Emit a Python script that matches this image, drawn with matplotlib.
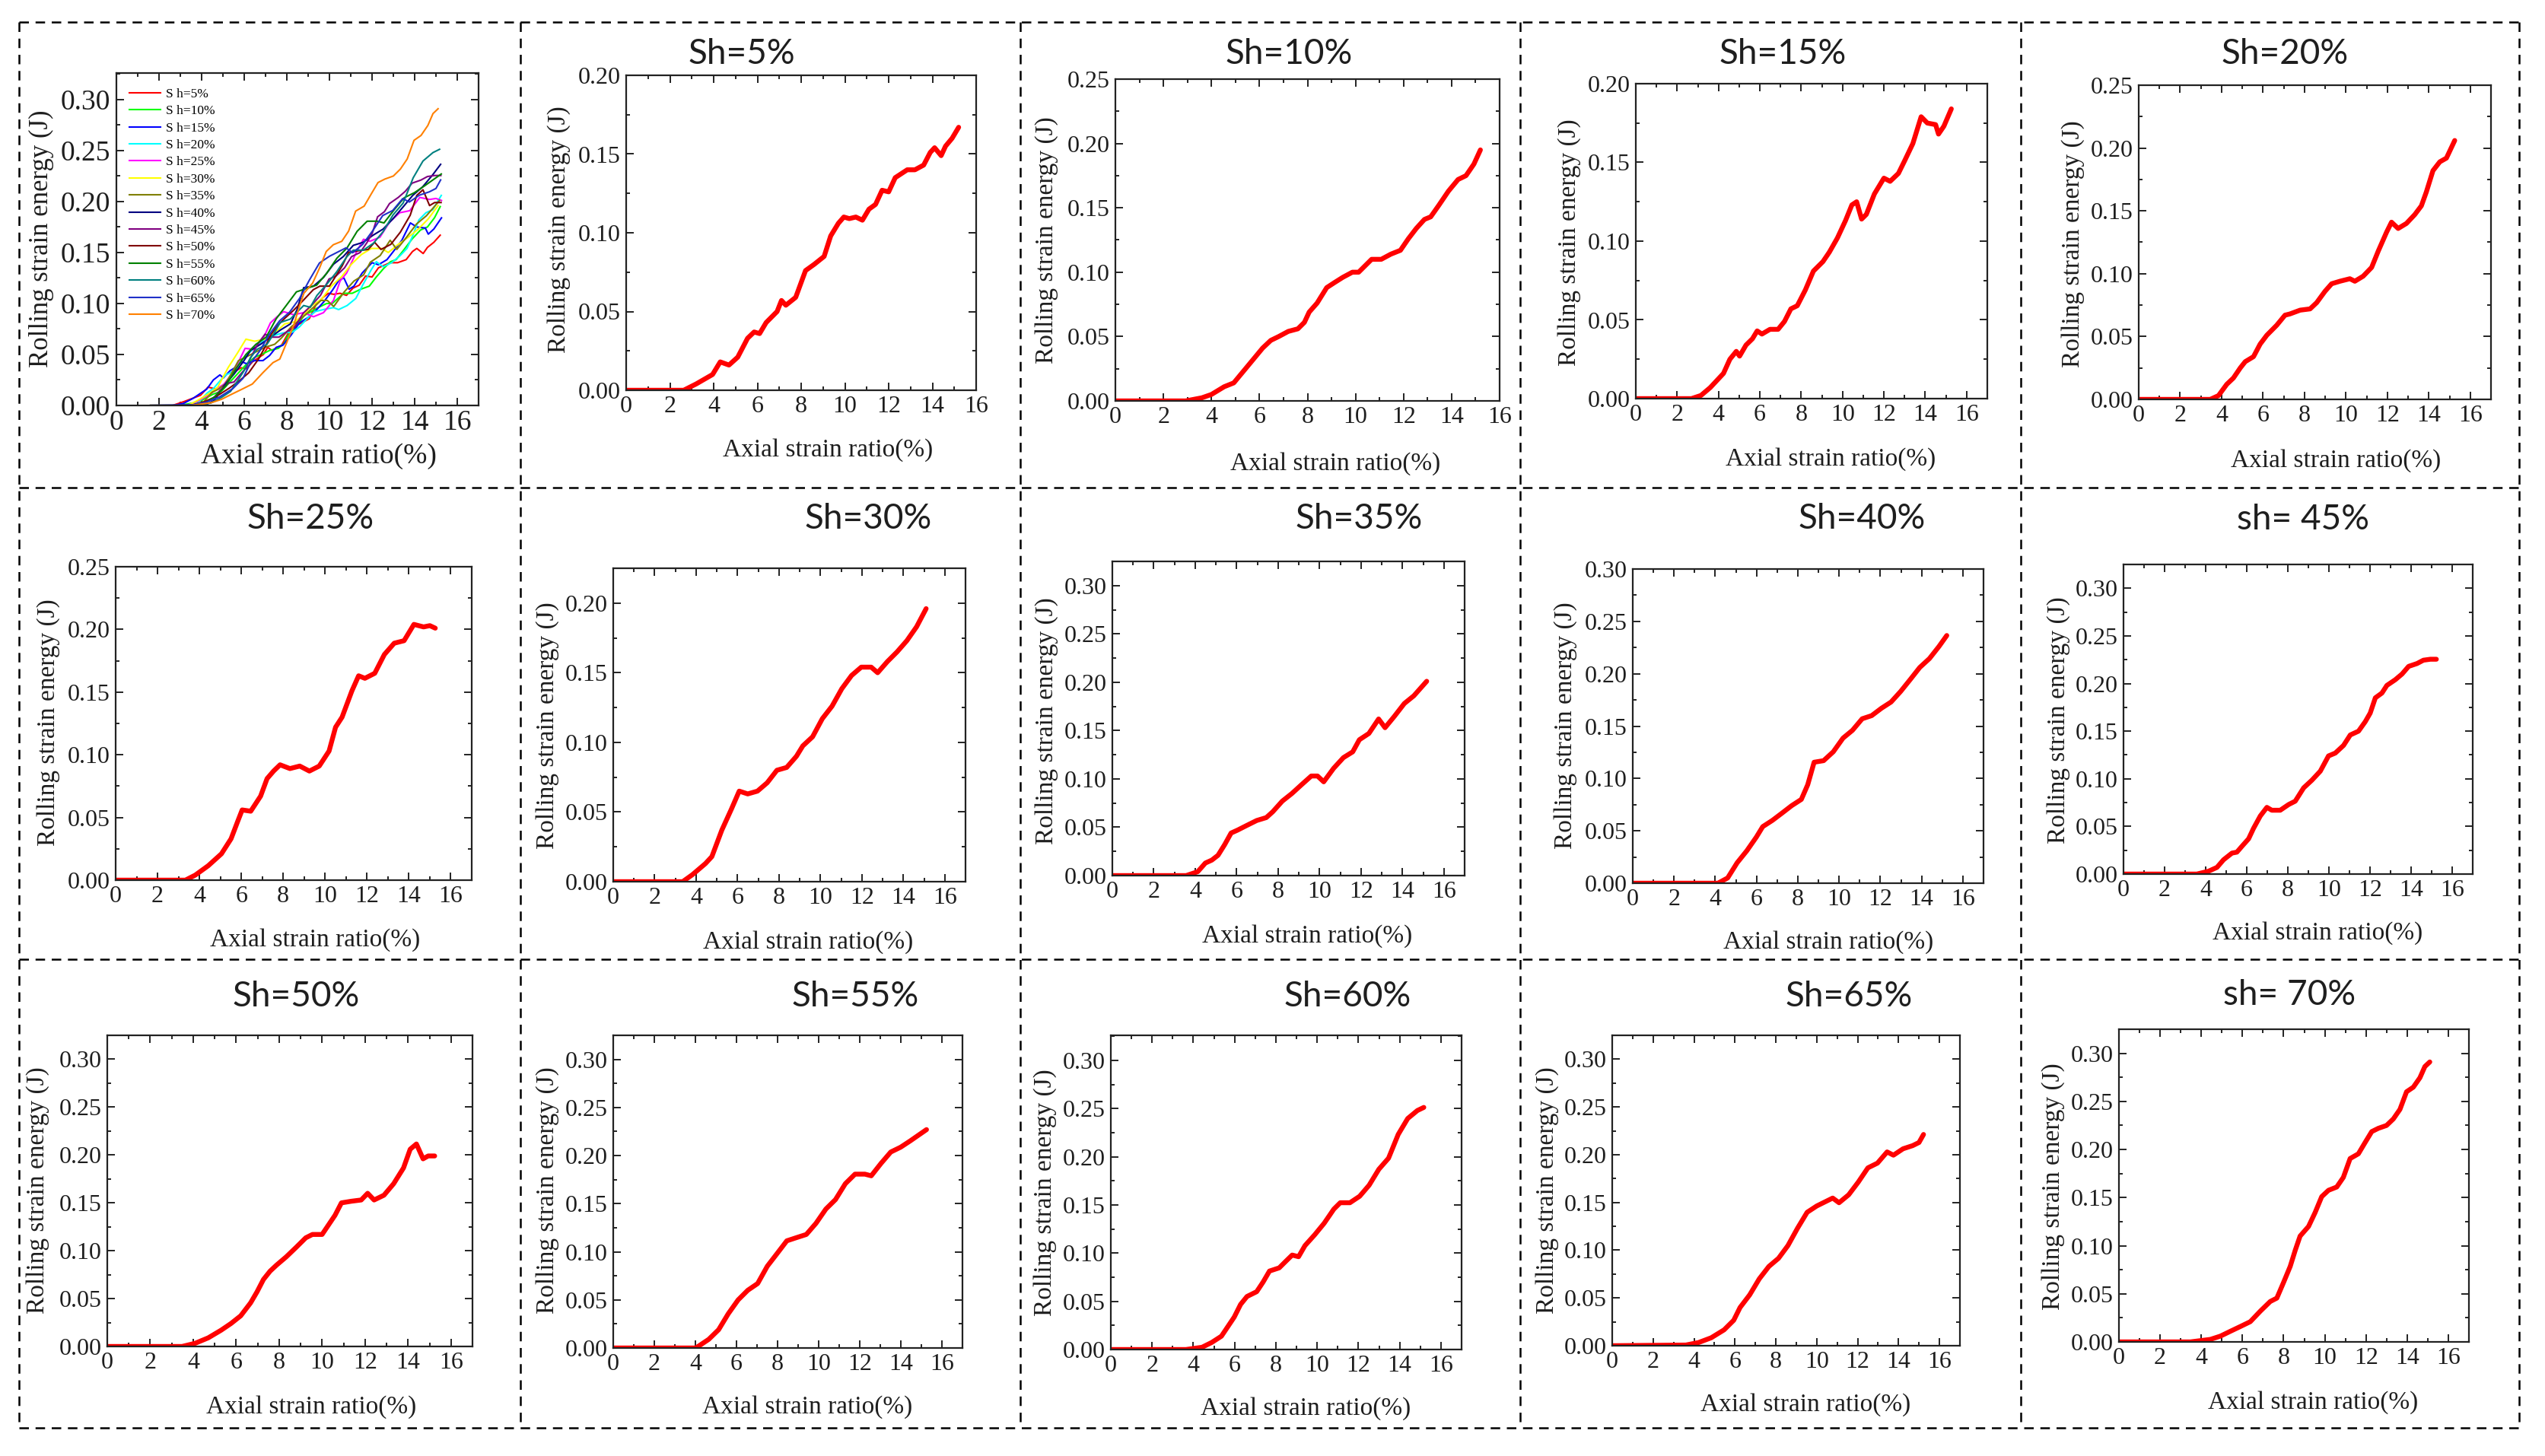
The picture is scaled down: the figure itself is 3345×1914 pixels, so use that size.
import numpy as np
import matplotlib
matplotlib.use("Agg")
import matplotlib.pyplot as plt
from matplotlib.lines import Line2D
from matplotlib.ticker import MultipleLocator, FormatStrFormatter

# ---- data (axial strain %, rolling strain energy J) ----
sh5_x = [0, 2.63, 3.2, 3.95, 4.3, 4.7, 5.1, 5.55, 5.85, 6.1, 6.4, 6.9, 7.1, 7.3, 7.75, 8.2, 8.6, 9.05, 9.35, 9.7, 9.95,
         10.2, 10.5, 10.8, 11.1, 11.4, 11.7, 12.0, 12.3, 12.85, 13.2, 13.6, 13.9, 14.1, 14.4, 14.6, 14.9, 15.2]
sh5_y = [0, 0, 0.004, 0.010, 0.018, 0.016, 0.021, 0.033, 0.037, 0.036, 0.043, 0.050, 0.057, 0.054, 0.059, 0.076, 0.080,
         0.085, 0.098, 0.106, 0.110, 0.109, 0.110, 0.108, 0.115, 0.118, 0.127, 0.126, 0.135, 0.140, 0.140, 0.143, 0.151,
         0.154, 0.149, 0.155, 0.160, 0.167]
sh10_x = [0, 2.93, 3.6, 4.0, 4.53, 4.93, 5.33, 5.73, 6.13, 6.47, 6.8, 7.2, 7.6, 7.87, 8.07, 8.4, 8.8, 9.13, 9.47, 9.87,
          10.13, 10.4, 10.67, 11.07, 11.47, 11.87, 12.2, 12.53, 12.87, 13.13, 13.47, 13.87, 14.27, 14.6, 14.93, 15.2]
sh10_y = [0, 0, 0.0024, 0.005, 0.011, 0.014, 0.023, 0.032, 0.041, 0.047, 0.050, 0.054, 0.056, 0.061, 0.069, 0.076, 0.088,
          0.092, 0.096, 0.100, 0.100, 0.105, 0.110, 0.110, 0.114, 0.117, 0.126, 0.134, 0.141, 0.143, 0.152, 0.163, 0.172,
          0.175, 0.184, 0.195]
sh15_x = [0, 2.69, 3.15, 3.6, 4.24, 4.55, 4.86, 5.02, 5.33, 5.64, 5.87, 6.1, 6.49, 6.88, 7.19, 7.5, 7.81, 8.2, 8.59, 9.05,
          9.36, 9.75, 10.14, 10.45, 10.68, 10.92, 11.15, 11.54, 12.0, 12.3, 12.7, 13.0, 13.4, 13.8, 14.1, 14.5, 14.64,
          14.9, 15.26]
sh15_y = [0, 0, 0.002, 0.007, 0.016, 0.025, 0.030, 0.027, 0.034, 0.038, 0.043, 0.041, 0.044, 0.044, 0.049, 0.057, 0.059,
          0.069, 0.081, 0.087, 0.093, 0.102, 0.113, 0.123, 0.125, 0.114, 0.117, 0.130, 0.140, 0.138, 0.143, 0.151, 0.162,
          0.179, 0.175, 0.174, 0.168, 0.173, 0.184]
sh20_x = [0, 3.45, 3.85, 4.25, 4.57, 4.9, 5.14, 5.54, 5.86, 6.18, 6.66, 7.06, 7.3, 7.79, 8.27, 8.59, 8.99, 9.31, 9.71,
          10.19, 10.43, 10.83, 11.24, 11.56, 11.96, 12.2, 12.52, 12.92, 13.32, 13.64, 13.88, 14.2, 14.53, 14.85, 15.25]
sh20_y = [0, 0, 0.003, 0.012, 0.017, 0.025, 0.030, 0.034, 0.044, 0.051, 0.059, 0.067, 0.068, 0.071, 0.072, 0.077, 0.086,
          0.092, 0.094, 0.096, 0.094, 0.098, 0.105, 0.118, 0.133, 0.141, 0.136, 0.140, 0.147, 0.154, 0.165, 0.182, 0.189,
          0.192, 0.206]
sh25_x = [0, 3.33, 3.8, 4.42, 5.05, 5.51, 5.83, 6.04, 6.45, 6.92, 7.23, 7.54, 7.85, 8.32, 8.79, 9.25, 9.72, 10.19, 10.5,
          10.81, 11.28, 11.6, 11.9, 12.37, 12.83, 13.3, 13.77, 14.24, 14.7, 15.0, 15.26]
sh25_y = [0, 0, 0.004, 0.0115, 0.021, 0.033, 0.047, 0.056, 0.055, 0.067, 0.081, 0.087, 0.092, 0.089, 0.091, 0.087, 0.091,
          0.103, 0.122, 0.130, 0.151, 0.163, 0.161, 0.165, 0.180, 0.189, 0.191, 0.204, 0.202, 0.203, 0.201]
sh30_x = [0, 3.35, 3.82, 4.45, 4.76, 5.24, 5.7, 6.08, 6.49, 6.96, 7.43, 7.9, 8.37, 8.84, 9.15, 9.62, 10.09, 10.56, 11.03,
          11.5, 11.97, 12.45, 12.76, 13.23, 13.7, 14.17, 14.64, 15.1]
sh30_y = [0, 0, 0.005, 0.013, 0.018, 0.037, 0.052, 0.065, 0.063, 0.065, 0.071, 0.080, 0.082, 0.090, 0.0975, 0.104, 0.117,
          0.126, 0.1385, 0.148, 0.154, 0.154, 0.150, 0.158, 0.165, 0.173, 0.183, 0.196]
sh35_x = [0, 3.56, 4.12, 4.49, 4.8, 5.1, 5.42, 5.73, 6.04, 6.5, 6.97, 7.43, 7.74, 8.2, 8.67, 9.13, 9.6, 9.9, 10.2, 10.68,
          11.15, 11.6, 11.92, 12.38, 12.85, 13.16, 13.62, 14.09, 14.55, 15.17]
sh35_y = [0, 0, 0.004, 0.013, 0.016, 0.021, 0.032, 0.044, 0.047, 0.052, 0.057, 0.060, 0.066, 0.077, 0.085, 0.094, 0.103,
          0.103, 0.097, 0.111, 0.122, 0.128, 0.1405, 0.147, 0.162, 0.153, 0.165, 0.178, 0.186, 0.201]
sh40_x = [0, 4.13, 4.6, 5.06, 5.53, 5.99, 6.3, 6.77, 7.24, 7.7, 8.17, 8.48, 8.79, 9.25, 9.72, 10.19, 10.65, 11.12, 11.58,
          12.05, 12.52, 12.98, 13.45, 13.91, 14.38, 14.84, 15.22]
sh40_y = [0, 0, 0.005, 0.0195, 0.031, 0.044, 0.054, 0.060, 0.067, 0.074, 0.080, 0.094, 0.1155, 0.117, 0.1255, 0.1385,
          0.146, 0.157, 0.160, 0.167, 0.173, 0.183, 0.1945, 0.206, 0.2145, 0.226, 0.2365]
sh45_x = [0, 3.57, 4.14, 4.55, 4.87, 5.28, 5.52, 5.76, 6.09, 6.33, 6.66, 6.98, 7.22, 7.63, 8.04, 8.36, 8.77, 9.17, 9.58,
          9.98, 10.31, 10.71, 11.04, 11.44, 11.77, 12.01, 12.26, 12.58, 12.82, 13.23, 13.56, 13.88, 14.29, 14.6, 14.94,
          15.23]
sh45_y = [0, 0, 0.003, 0.007, 0.015, 0.022, 0.023, 0.029, 0.037, 0.048, 0.061, 0.070, 0.067, 0.067, 0.073, 0.0765, 0.0905,
          0.0985, 0.108, 0.124, 0.127, 0.135, 0.146, 0.150, 0.160, 0.169, 0.185, 0.190, 0.198, 0.204, 0.210, 0.218, 0.221,
          0.2245, 0.2255, 0.2255]
sh50_x = [0, 3.48, 4.09, 4.7, 5.3, 5.76, 6.21, 6.67, 6.97, 7.27, 7.58, 7.88, 8.33, 8.79, 9.24, 9.55, 10.0, 10.3, 10.6,
          10.9, 11.36, 11.82, 12.12, 12.42, 12.88, 13.33, 13.79, 14.1, 14.39, 14.7, 14.94, 15.24]
sh50_y = [0, 0, 0.0033, 0.009, 0.017, 0.024, 0.032, 0.0455, 0.057, 0.070, 0.0787, 0.085, 0.0936, 0.1035, 0.1135, 0.117,
          0.117, 0.127, 0.137, 0.150, 0.1517, 0.153, 0.160, 0.153, 0.158, 0.170, 0.1865, 0.206, 0.2115, 0.196, 0.199, 0.199]
sh55_x = [0, 4.02, 4.65, 5.13, 5.6, 6.08, 6.55, 7.03, 7.5, 7.97, 8.45, 8.92, 9.4, 9.87, 10.35, 10.82, 11.3, 11.77, 12.25,
          12.56, 13.04, 13.51, 13.99, 14.46, 15.25]
sh55_y = [0, 0, 0.009, 0.019, 0.0356, 0.050, 0.060, 0.067, 0.085, 0.098, 0.1114, 0.1147, 0.118, 0.1296, 0.1444, 0.1543,
          0.1708, 0.1807, 0.1807, 0.179, 0.192, 0.2037, 0.2087, 0.2153, 0.227]
sh60_x = [0, 3.64, 4.42, 4.89, 5.36, 5.67, 5.98, 6.29, 6.6, 7.07, 7.38, 7.69, 8.16, 8.47, 8.79, 9.1, 9.41, 9.88, 10.34,
          10.81, 11.12, 11.59, 12.06, 12.52, 12.99, 13.46, 13.93, 14.39, 14.86, 15.17]
sh60_y = [0, 0, 0.0023, 0.0073, 0.0138, 0.0237, 0.0336, 0.0468, 0.055, 0.060, 0.070, 0.0814, 0.0847, 0.0913, 0.098,
          0.0963, 0.1078, 0.119, 0.131, 0.1457, 0.1523, 0.1523, 0.159, 0.1705, 0.187, 0.1985, 0.2232, 0.2397, 0.248, 0.2512]
sh65_x = [0, 3.6, 4.22, 4.84, 5.47, 5.94, 6.25, 6.72, 7.19, 7.66, 8.13, 8.59, 9.06, 9.53, 10.0, 10.47, 10.78, 11.09,
          11.56, 12.03, 12.5, 12.97, 13.44, 13.75, 14.22, 14.69, 15.0, 15.22]
sh65_y = [0, 0.0007, 0.0033, 0.0083, 0.0166, 0.0266, 0.040, 0.0532, 0.070, 0.083, 0.0915, 0.1048, 0.123, 0.1397, 0.1463,
          0.1513, 0.1546, 0.1497, 0.158, 0.1713, 0.1862, 0.1912, 0.2029, 0.1995, 0.2062, 0.2095, 0.2128, 0.2212]
sh70_x = [0, 3.47, 4.44, 4.93, 5.41, 5.9, 6.38, 6.87, 7.35, 7.67, 8.0, 8.32, 8.56, 8.8, 9.21, 9.53, 9.85, 10.18, 10.58,
          10.9, 11.23, 11.63, 11.95, 12.28, 12.6, 13.0, 13.33, 13.65, 13.97, 14.3, 14.62, 14.86, 15.1]
sh70_y = [0, 0, 0.0026, 0.006, 0.011, 0.016, 0.021, 0.032, 0.042, 0.0455, 0.062, 0.0785, 0.095, 0.110, 0.120, 0.1345,
          0.151, 0.1576, 0.161, 0.171, 0.1906, 0.1955, 0.207, 0.2186, 0.222, 0.225, 0.2318, 0.2417, 0.260, 0.2648, 0.2746,
          0.2862, 0.291]

series_x = [sh5_x, sh10_x, sh15_x, sh20_x, sh25_x, sh30_x, sh35_x, sh40_x, sh45_x, sh50_x, sh55_x, sh60_x, sh65_x, sh70_x]
series_y = [sh5_y, sh10_y, sh15_y, sh20_y, sh25_y, sh30_y, sh35_y, sh40_y, sh45_y, sh50_y, sh55_y, sh60_y, sh65_y, sh70_y]
legend_labels = ["S h=5%", "S h=10%", "S h=15%", "S h=20%", "S h=25%", "S h=30%", "S h=35%", "S h=40%",
                 "S h=45%", "S h=50%", "S h=55%", "S h=60%", "S h=65%", "S h=70%"]
titles = ["Sh=5%", "Sh=10%", "Sh=15%", "Sh=20%", "Sh=25%", "Sh=30%", "Sh=35%", "Sh=40%", "sh= 45%",
          "Sh=50%", "Sh=55%", "Sh=60%", "Sh=65%", "sh= 70%"]
# origin-style colour list
colors = ["#FF0000", "#00FF00", "#0000FF", "#00FFFF", "#FF00FF", "#FFFF00", "#808000", "#000080",
          "#800080", "#800000", "#008000", "#008080", "#2030C8", "#FF8000"]
ymax_list = [0.20, 0.25, 0.20, 0.25, 0.25, 0.225, 0.325, 0.30, 0.325, 0.325, 0.325, 0.326, 0.325, 0.325]
xmax_list = [16, 16, 17, 17, 17, 17, 17, 17, 17, 17, 17, 17, 17, 17]

# ---- layout in pixels of the 3345x1914 canvas ----
W, H = 3345, 1914
# axes boxes (left, top, right, bottom)
boxes = [(823, 99, 1283, 513), (1466, 104, 1971, 527), (2150, 110, 2612, 524), (2811, 112, 3274, 525),
         (152, 745, 620, 1157), (806, 747, 1269, 1159), (1462, 738, 1925, 1151), (2146, 748, 2607, 1161),
         (2791, 742, 3250, 1149), (141, 1361, 621, 1770), (806, 1361, 1265, 1772), (1460, 1361, 1921, 1774),
         (2119, 1361, 2576, 1769), (2785, 1353, 3245, 1764)]
title_pos = [(975, 71), (1694, 71), (2343, 71), (3003, 71), (408, 682), (1141, 682), (1786, 682), (2447, 682),
             (3027, 683), (389, 1310), (1124, 1310), (1771, 1310), (2430, 1310), (3009, 1308)]
xlab_pos = [(1088, 592), (1755, 610), (2406, 604), (3070, 606), (414, 1236), (1062, 1239), (1718, 1231), (2403, 1239),
            (3046, 1227), (409, 1850), (1061, 1850), (1716, 1852), (2373, 1847), (3040, 1844)]
ylab_pos = [(735, 302), (1376, 316), (2063, 319), (2725, 321), (64, 950), (720, 954), (1376, 948), (2058, 954),
            (2706, 947), (50, 1565), (720, 1565), (1374, 1568), (2034, 1565), (2699, 1560)]

plt.rcParams['font.family'] = ['Liberation Serif', 'DejaVu Serif']
TXT = '#1e1e1e'

fig = plt.figure(figsize=(W / 100, H / 100), dpi=100)
fig.patch.set_facecolor('white')


def add_px_axes(l, t, r, b):
    return fig.add_axes([l / W, 1 - b / H, (r - l) / W, (b - t) / H])


def style(ax, xmax, ymax, fs, pad):
    ax.set_xlim(0, xmax)
    ax.set_ylim(0, ymax)
    ax.xaxis.set_major_locator(MultipleLocator(2))
    ax.xaxis.set_minor_locator(MultipleLocator(1))
    ax.yaxis.set_major_locator(MultipleLocator(0.05))
    ax.yaxis.set_minor_locator(MultipleLocator(0.025))
    ax.yaxis.set_major_formatter(FormatStrFormatter('%.2f'))
    ax.tick_params(which='both', direction='in', top=True, right=True, width=1.4,
                   color='#222222', labelcolor=TXT, labelsize=fs, pad=pad)
    ax.tick_params(which='major', length=7)
    ax.tick_params(which='minor', length=3.5)
    for s in ax.spines.values():
        s.set_linewidth(1.6)
        s.set_color('#222222')


def ftext(x, y, s, **kw):
    fig.text(x / W, 1 - y / H, s, ha='center', va='center', color=TXT, **kw)


# ---- combined panel ----
ax0 = add_px_axes(153, 96, 629, 533)
for xs, ys, c, lab in zip(series_x, series_y, colors, legend_labels):
    xs = np.asarray(xs)
    ys = np.asarray(ys)
    keep = xs > 1.6
    ax0.plot(np.r_[1.6, xs[keep]], np.r_[0.0, ys[keep]], color=c, lw=1.5, label=lab)
style(ax0, 17, 0.326, 27, 4)
ax0.yaxis.set_tick_params(pad=6)
ax0.legend(loc='upper left', bbox_to_anchor=(0.035, 0.955), frameon=False, fontsize=12.5,
           handlelength=2.4, handletextpad=0.4, labelspacing=0.36, borderpad=0, borderaxespad=0)
ftext(419, 600, "Axial strain ratio(%)", fontsize=27)
ftext(54, 314, "Rolling strain energy (J)", fontsize=25, rotation=90)

# ---- individual panels ----
for i in range(14):
    ax = add_px_axes(*boxes[i])
    ax.plot(series_x[i], series_y[i], color='#FF0000', lw=4.6, solid_capstyle='round', solid_joinstyle='round')
    style(ax, xmax_list[i], ymax_list[i], 23, 5)
    ftext(*title_pos[i], titles[i], fontsize=33, family=['Lato', 'DejaVu Sans'])
    ftext(*xlab_pos[i], "Axial strain ratio(%)", fontsize=24)
    ftext(*ylab_pos[i], "Rolling strain energy (J)", fontsize=24, rotation=90)

# ---- dashed frame around the panels ----
L, R, T, B = 25, 3311, 29, 1877
dash = dict(color='black', lw=1.8, linestyle=(0, (5, 3.5)), transform=fig.transFigure)
for yy in [T, 641, 1261, B]:
    fig.add_artist(Line2D([L / W, R / W], [1 - yy / H, 1 - yy / H], **dash))
for xx in [L, 684, 1341, 1998, 2656, R]:
    fig.add_artist(Line2D([xx / W, xx / W], [1 - T / H, 1 - B / H], **dash))

fig.savefig('out.png', dpi=100, facecolor='white')
